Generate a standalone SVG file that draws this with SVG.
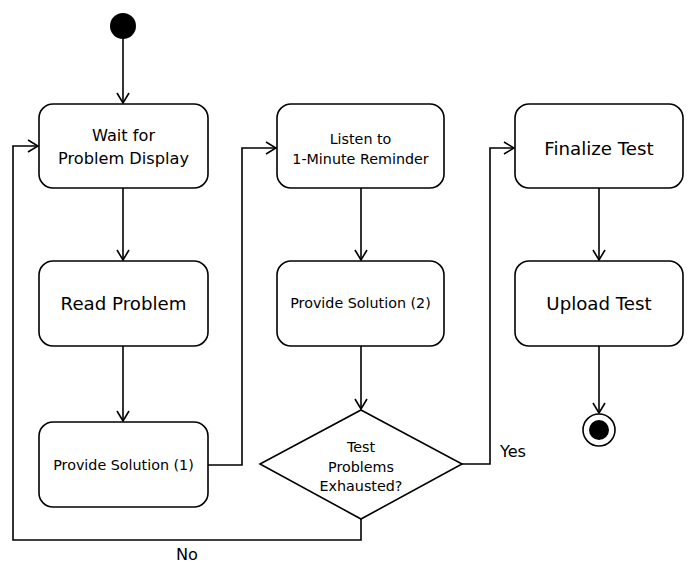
<svg xmlns="http://www.w3.org/2000/svg" width="690" height="565" viewBox="0 0 690 565">
<style>
.box{fill:#fff;stroke:#000;stroke-width:1.6}
.ln{fill:none;stroke:#000;stroke-width:1.6}
text{font-family:"DejaVu Sans",Verdana,sans-serif;fill:#000;text-anchor:middle}
.s14{font-size:14.3px}
.s16{font-size:16.2px}
.s18{font-size:18.2px}
</style>
<defs>
<marker id="arr" viewBox="0 0 12 14" refX="11" refY="7" markerWidth="12" markerHeight="14" markerUnits="userSpaceOnUse" orient="auto">
<path d="M1,1 L11,7 L1,13" fill="none" stroke="#000" stroke-width="1.6"/>
</marker>
</defs>
<rect width="690" height="565" fill="#fff"/>
<g id="connectors">
<path class="ln" d="M123,39 V103" marker-end="url(#arr)"/>
<path class="ln" d="M123,188 V260" marker-end="url(#arr)"/>
<path class="ln" d="M123,346 V421" marker-end="url(#arr)"/>
<path class="ln" d="M208,465 H242 V148 H276" marker-end="url(#arr)"/>
<path class="ln" d="M361,188 V260" marker-end="url(#arr)"/>
<path class="ln" d="M361,346 V409" marker-end="url(#arr)"/>
<path class="ln" d="M462,464 H490 V148 H514" marker-end="url(#arr)"/>
<path class="ln" d="M361,519 V540 H13 V146 H38" marker-end="url(#arr)"/>
<path class="ln" d="M599,188 V260" marker-end="url(#arr)"/>
<path class="ln" d="M599,346 V413" marker-end="url(#arr)"/>
<text class="s16" x="513" y="457">Yes</text>
<text class="s16" x="187" y="560">No</text>
</g>
<g id="start"><circle cx="123" cy="26" r="13" fill="#000"/></g>
<g id="wait">
<rect class="box" x="39" y="104" width="169" height="84" rx="14"/>
<text class="s16" x="123.5" y="141">Wait for</text>
<text class="s16" x="123.5" y="164">Problem Display</text>
</g>
<g id="read">
<rect class="box" x="39" y="261" width="169" height="85" rx="14"/>
<text class="s18" x="123.5" y="310">Read Problem</text>
</g>
<g id="sol1">
<rect class="box" x="39" y="422" width="169" height="85" rx="14"/>
<text class="s14" x="123.5" y="470">Provide Solution (1)</text>
</g>
<g id="listen">
<rect class="box" x="277" y="104" width="167" height="84" rx="14"/>
<text class="s14" x="360.5" y="144">Listen to</text>
<text class="s14" x="360.5" y="164">1-Minute Reminder</text>
</g>
<g id="sol2">
<rect class="box" x="277" y="261" width="167" height="85" rx="14"/>
<text class="s14" x="360.5" y="308">Provide Solution (2)</text>
</g>
<g id="decision">
<polygon class="box" points="361,410 462,464 361,519 260,464"/>
<text class="s14" x="361" y="452">Test</text>
<text class="s14" x="361" y="472">Problems</text>
<text class="s14" x="361" y="491">Exhausted?</text>
</g>
<g id="finalize">
<rect class="box" x="515" y="104" width="168" height="84" rx="14"/>
<text class="s18" x="599" y="155">Finalize Test</text>
</g>
<g id="upload">
<rect class="box" x="515" y="261" width="168" height="85" rx="14"/>
<text class="s18" x="599" y="310">Upload Test</text>
</g>
<g id="end">
<circle cx="599" cy="430" r="16" fill="#fff" stroke="#000" stroke-width="1.6"/>
<circle cx="599" cy="430" r="10" fill="#000"/>
</g>
</svg>
